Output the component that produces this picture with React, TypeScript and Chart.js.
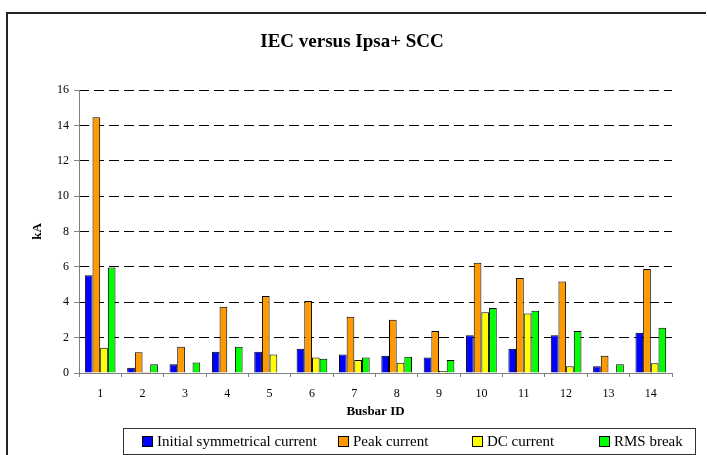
import React, { useEffect, useRef } from "react";
import { Chart, registerables } from "chart.js";

Chart.register(...registerables);

const categories = ["1", "2", "3", "4", "5", "6", "7", "8", "9", "10", "11", "12", "13", "14"];
const initialSymmetrical = [5.52, 0.3, 0.49, 1.2, 1.2, 1.37, 1.05, 0.98, 0.87, 2.13, 1.37, 2.13, 0.38, 2.28];
const peakCurrent = [14.46, 1.17, 1.49, 3.75, 4.35, 4.07, 3.18, 3.01, 2.37, 6.23, 5.37, 5.18, 0.98, 5.88];
const dcCurrent = [1.43, 0.06, null, null, 1.05, 0.87, 0.73, 0.58, 0.11, 3.43, 3.37, 0.38, null, 0.55];
const rmsBreak = [5.97, 0.49, 0.6, 1.49, null, 0.81, 0.87, 0.92, 0.73, 3.67, 3.52, 2.37, 0.49, 2.56];
const seriesNames = ["Initial symmetrical current", "Peak current", "DC current", "RMS break"];
const seriesColors = ["#0000FF", "#FF9900", "#FFFF00", "#00FF00"];
const yTicks = [0, 2, 4, 6, 8, 10, 12, 14, 16];
const chartTitle = "IEC versus Ipsa+ SCC";
const xTitle = "Busbar ID";
const yTitle = "kA";

const FONT = "'Liberation Serif', 'Times New Roman', serif";

const decorPlugin = {
  id: "decor",
  afterDraw(chart: any) {
    const ctx = chart.ctx;
    const area = chart.chartArea;
    ctx.save();
    // outer frame
    ctx.strokeStyle = "#222";
    ctx.lineWidth = 2;
    ctx.beginPath();
    ctx.moveTo(7, 470);
    ctx.lineTo(7, 13);
    ctx.lineTo(706, 13);
    ctx.stroke();

    // solid y axis line
    ctx.strokeStyle = "#808080";
    ctx.lineWidth = 1;
    ctx.beginPath();
    ctx.moveTo(Math.round(area.left) + 0.5, area.top);
    ctx.lineTo(Math.round(area.left) + 0.5, area.bottom);
    ctx.stroke();

    ctx.fillStyle = "#000";
    ctx.textAlign = "center";
    ctx.textBaseline = "middle";
    ctx.font = `bold 19px ${FONT}`;
    ctx.fillText(chartTitle, 352, 42);

    ctx.font = `bold 13px ${FONT}`;
    ctx.fillText(xTitle, (area.left + area.right) / 2, 412);

    ctx.save();
    ctx.translate(38, (area.top + area.bottom) / 2);
    ctx.rotate(-Math.PI / 2);
    ctx.fillText(yTitle, 0, 0);
    ctx.restore();

    // legend
    ctx.strokeStyle = "#333";
    ctx.lineWidth = 1;
    ctx.strokeRect(123.5, 428.5, 572, 26);
    const xs = [142, 338, 472, 599];
    ctx.font = `15px ${FONT}`;
    ctx.textAlign = "left";
    chart.data.datasets.forEach((ds: any, i: number) => {
      ctx.fillStyle = ds.backgroundColor;
      ctx.fillRect(xs[i], 436, 10, 10);
      ctx.strokeStyle = "#000";
      ctx.strokeRect(xs[i] + 0.5, 436.5, 10, 10);
      ctx.fillStyle = "#000";
      ctx.fillText(ds.label, xs[i] + 15, 442);
    });
    ctx.restore();
  },
};

export default function App() {
  const ref = useRef<HTMLCanvasElement>(null);
  useEffect(() => {
    if (!ref.current) return;
    const values = [initialSymmetrical, peakCurrent, dcCurrent, rmsBreak];
    const chart = new Chart(ref.current, {
      type: "bar",
      data: {
        labels: categories,
        datasets: values.map((v, i) => ({
          label: seriesNames[i],
          data: v,
          backgroundColor: seriesColors[i],
          borderColor: "#000",
          borderWidth: 1,
          categoryPercentage: 0.725,
          barPercentage: 1,
        })),
      },
      options: {
        animation: false,
        responsive: false,
        maintainAspectRatio: false,
        layout: { padding: { left: 0, top: 90, right: 35, bottom: 0 } },
        plugins: { legend: { display: false }, title: { display: false }, tooltip: { enabled: false } },
        scales: {
          x: {
            afterFit: (s: any) => {
              s.height = 82;
            },
            border: { display: true, color: "#808080", width: 1 },
            grid: {
              display: true,
              drawOnChartArea: false,
              drawTicks: true,
              tickLength: 4,
              color: "#808080",
              offset: true,
            },
            ticks: { color: "#000", font: { family: FONT, size: 12 }, padding: 10, maxRotation: 0 },
          },
          y: {
            min: 0,
            max: 16,
            afterFit: (s: any) => {
              s.width = 79;
            },
            afterBuildTicks: (s: any) => {
              s.ticks = yTicks.map((v) => ({ value: v }));
            },
            border: { display: false, color: "#808080", width: 1, dash: [10, 5] },
            grid: {
              color: (c: any) => (c.tick && c.tick.value === 0 ? "rgba(0,0,0,0)" : "#000"),
              tickColor: "#808080",
              tickLength: 5,
              tickBorderDash: [],
              lineWidth: 1,
            } as any,
            ticks: { color: "#000", font: { family: FONT, size: 12 }, padding: 5 },
          },
        },
      },
      plugins: [decorPlugin],
    } as any);
    return () => chart.destroy();
  }, []);
  return (
    <div style={{ position: "fixed", left: 0, top: 0, width: 707, height: 455, background: "#fff" }}>
      <canvas ref={ref} width={707} height={455} style={{ width: 707, height: 455, display: "block" }} />
    </div>
  );
}
